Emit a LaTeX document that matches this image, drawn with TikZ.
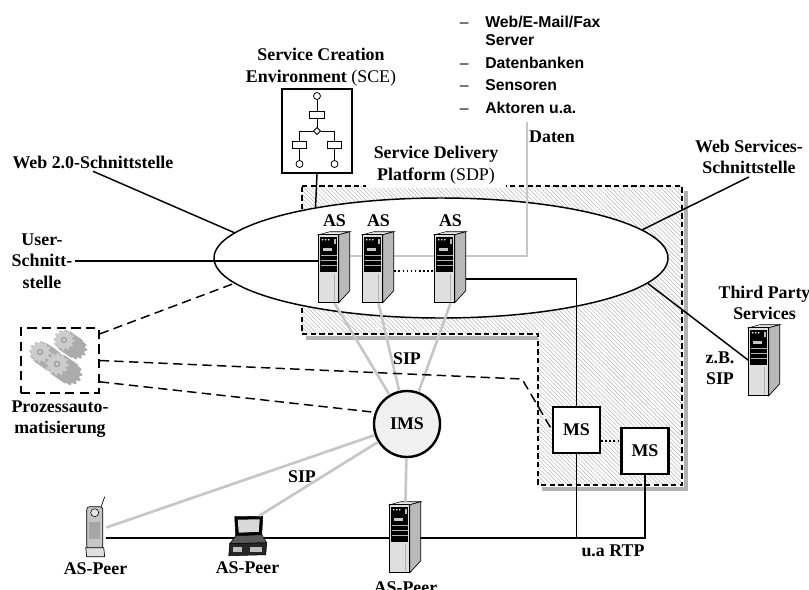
\documentclass[tikz,border=0pt]{standalone}
\usepackage{fontspec}
\setmainfont{Liberation Serif}
\newfontfamily\listfont{Liberation Sans}
\usetikzlibrary{shapes.geometric, positioning, patterns.meta}

\begin{document}
\begin{tikzpicture}[x=0.75pt, y=-0.75pt,
    txt/.style={font=\fontsize{13.4}{16.1}\selectfont\bfseries, align=center, inner sep=2pt},
    rechner/.style={minimum width=23.25pt, minimum height=53.25pt, inner sep=0pt},
    msbox/.style={draw, line width=1.6pt, fill=white, minimum width=35.25pt, minimum height=34.5pt, inner sep=0pt, txt},
    verb/.style={line width=1.1pt},
    sip/.style={black!22, line width=2pt},
    strich/.style={line width=1.1pt, dash pattern=on 7pt off 4pt},
    turm/.pic={
      \filldraw[fill=gray!15, line width=0.4pt] (0,3) -- (11,0) -- (31,0) -- (20,3) -- cycle;
      \filldraw[fill=gray!55, line width=0.5pt] (20,3) -- (31,0) -- (31,59) -- (20,71) -- cycle;
      \filldraw[fill=gray!25, line width=0.5pt] (0,3) rectangle (20,71);
      \fill[black] (1.5,5) rectangle (18.5,40);
      \foreach \i in {4,7,10} \fill[white] (\i,8) circle (0.9);
      \fill[gray!50] (15,7) rectangle (17,12);
      \fill[gray!45] (4,16) rectangle (13,19);
      \foreach \j in {23,28,33} \draw[gray!60, line width=0.3pt] (2,\j) -- (18,\j);
      \draw[gray!60, line width=0.4pt] (15.5,42) -- (15.5,69);
    },
    handybild/.pic={
      \draw[line width=0.5pt] (16,11) -- (20,0);
      \filldraw[fill=gray!45, line width=0.5pt, rounded corners=2pt] (2,10) rectangle (18,52);
      \filldraw[fill=gray!20, line width=0.4pt] (10,16) circle (4);
      \fill[gray!70] (4.5,25) rectangle (15.5,42);
      \filldraw[fill=gray!25, line width=0.5pt] (1,51) -- (19,51) -- (20,60) -- (2,60) -- cycle;
    },
    laptopbild/.pic={
      \filldraw[fill=black, line width=0.4pt] (7,1) -- (35,0.5) -- (34,19) -- (8,20) -- cycle;
      \fill[gray!30] (10,4) -- (32,3.5) -- (31,16) -- (11,17) -- cycle;
      \filldraw[fill=gray!70!black, line width=0.4pt] (8,20) -- (34,19) -- (39,27) -- (2,28) -- cycle;
      \filldraw[fill=black!85, line width=0.4pt] (2,28) -- (39,27) -- (38,39) -- (1,40) -- cycle;
      \fill[gray!50] (5,31) rectangle (14,36);
      \fill[gray!50] (22,31) rectangle (34,36);
    },
    zahnrad/.pic={
      \foreach \k in {12,...,1}
        \fill[gray!65, shift={(\k,0.7*\k)}] (0:10) \foreach \a in {0,30,...,330}{ -- (\a:10) -- (\a+11:10) -- (\a+15:8) -- (\a+26:8) } -- cycle;
      \fill[gray!40] (0:10) \foreach \a in {0,30,...,330}{ -- (\a:10) -- (\a+11:10) -- (\a+15:8) -- (\a+26:8) } -- cycle;
      \fill[gray!70] (0,0) circle (3);
      \fill[gray!25] (0,0) circle (1.3);
    },
  ]
  \useasboundingbox (0,0) rectangle (809,589);

  \path[pattern={Lines[angle=-45, distance=2.2pt, line width=0.35pt]}, pattern color=gray!60]
    (302,186) -- (682,186) -- (682,485) -- (538,485) -- (538,334) -- (302,334) -- cycle;
  \draw[gray!60, line width=3.5pt] (686,191) -- (686,489) -- (542,489);
  \draw[gray!60, line width=3.5pt] (306,338) -- (538,338);
  \draw[line width=1pt, dash pattern=on 4pt off 2.5pt]
    (302,186) -- (682,186) -- (682,485) -- (538,485) -- (538,334) -- (302,334) -- cycle;

  \node[txt, fill=white, inner xsep=6pt, inner ysep=3pt] (sdptext) at (436,165) {Service Delivery\\Platform \textmd{(SDP)}};
  \node[ellipse, draw, line width=1.1pt, fill=white, minimum width=340.5pt, minimum height=90pt] (sdp) at (441,258) {};

  \node[draw, line width=1.2pt, minimum width=52.5pt, minimum height=63pt] (sce) at (317,131) {};
  \begin{scope}[shift={(sce.center)}, line width=0.6pt]
    \draw (0,-35) circle (3.5);
    \draw (0,-31.5) -- (0,-20);
    \draw (-7.5,-20) rectangle (7.5,-13);
    \draw (0,-13) -- (0,-3.5);
    \draw (0,-3.5) -- (3.5,0) -- (0,3.5) -- (-3.5,0) -- cycle;
    \draw (-3.5,0) -| (-17.5,10);
    \draw (3.5,0) -| (17.5,10);
    \draw (-24.5,10) rectangle (-10.5,17);
    \draw (10.5,10) rectangle (24.5,17);
    \draw (-17.5,17) -- (-17.5,29.5);
    \draw (17.5,17) -- (17.5,29.5);
    \draw (-17.5,33) circle (3.5);
    \draw (17.5,33) circle (3.5);
  \end{scope}
  \node[txt] (scetext) at (321,67) {Service Creation\\Environment \textmd{(SCE)}};

  \node[txt] (web20) at (93,162) {Web 2.0-Schnittstelle};
  \node[txt] (user) at (42,261) {User-\\Schnitt-\\stelle};
  \node[txt] (websvc) at (749,157) {Web Services-\\Schnittstelle};
  \node[anchor=north west, inner sep=2pt, font=\listfont\fontsize{11.8}{13.5}\selectfont\bfseries] (quellen) at (457,12) {%
    \begin{tabular}{@{}l@{\hspace{12.5pt}}l@{}}
      \textmd{\textendash} & Web/E-Mail/Fax\\
                           & Server\\[3.4pt]
      \textmd{\textendash} & Datenbanken\\[3.4pt]
      \textmd{\textendash} & Sensoren\\[3.4pt]
      \textmd{\textendash} & Aktoren u.a.
    \end{tabular}};
  \coordinate (daten) at (527,122);
  \node[txt] (datentext) at (552,137) {Daten};

  \node[rechner] (as1) at (334.5,267.5) {};
  \pic at (as1.north west) {turm};
  \draw[sip] ([yshift=8.6pt]as1.east) -| (daten);
  \node[rechner] (as2) at (378.5,267.5) {};
  \pic at (as2.north west) {turm};
  \node[rechner] (as3) at (450.5,267.5) {};
  \pic at (as3.north west) {turm};
  \node[txt, above=1.5pt of as1] (as1text) {AS};
  \node[txt, above=1.5pt of as2] (as2text) {AS};
  \node[txt, above=1.5pt of as3] (as3text) {AS};

  \draw[verb] (web20.south) -- (sdp.173);
  \draw[verb] (sce.south) -- (sdp.158);
  \draw[verb] (user.east) -- (user.east -| as1.west);
  \draw[verb] (websvc.south) -- (sdp.8);
  \draw[dotted, line width=1.1pt] ([yshift=-2.6pt]as2.east) -- ([yshift=-2.6pt]as3.west);

  \node[rechner] (tps) at (764.5,360.5) {};
  \pic at (tps.north west) {turm};
  \node[txt, above=1.5pt of tps] (tpstext) {Third Party\\Services};
  \node[txt] (zbsip) at (720,368) {z.B.\\SIP};
  \draw[verb] (sdp.-7) -- (tps.west);

  \node[draw, strich, minimum width=58.5pt, minimum height=48.75pt] (proz) at (60,360.5) {};
  \pic[scale=1.05] at (64,340) {zahnrad};
  \pic[scale=1.1] at (40,352) {zahnrad};
  \pic[scale=1.15] at (57,364) {zahnrad};
  \node[txt, below=3pt of proz] (proztext) {Prozessauto-\\matisierung};

  \node[circle, draw, line width=1.8pt, fill=gray!12, minimum size=49.5pt, txt] (ims) at (407,424) {IMS};
  \node[msbox] (ms1) at (576.5,430) {MS};
  \node[msbox] (ms2) at (645,451) {MS};
  \node[minimum width=15.75pt, minimum height=45.75pt, inner sep=0pt] (handy) at (95.5,527.5) {};
  \pic at (handy.north west) {handybild};

  \foreach \s in {as1,as2,as3}
    \draw[sip] (\s.south) -- (ims);
  \node[txt] (sipoben) at (407,359) {SIP};

  \draw[verb] ([yshift=-8.6pt]as3.east) -| (ms1.north);
  \draw[dotted, line width=1.1pt] (ms1.east |- 0,441) -- (ms2.west |- 0,441);
  \coordinate (knick) at (522,379);
  \draw[strich] ([yshift=-5pt]proz.north east) -- (sdp.187);
  \draw[strich] (proz.east) -- (knick) -- (ms1.west);
  \draw[strich] ([yshift=-16pt]proz.east) -- (ims.160);

  \coordinate (rtp) at (ms2.south |- 0,538);
  \draw[verb] (ms2.south) -- (rtp) -- (rtp -| handy.east);
  \draw[verb] (ms1.south) -- (ms1.south |- rtp);
  \node[txt] (rtptext) at (613,551) {u.a RTP};

  \node[minimum width=29.25pt, minimum height=30.75pt, inner sep=0pt] (laptop) at (247.5,536.5) {};
  \pic at (laptop.north west) {laptopbild};
  \node[rechner] (peer) at (405.5,537.5) {};
  \pic at (peer.north west) {turm};
  \draw[sip] (ims) -- (handy.east);
  \draw[sip] (ims) -- ([xshift=-6pt]laptop.north east);
  \draw[sip] (ims) -- (peer.north);
  \node[txt] (sipunten) at (302,477) {SIP};

  \node[txt, below=1pt of handy] (peer1) {AS-Peer};
  \node[txt, below=1pt of laptop] (peer2) {AS-Peer};
  \node[txt, below=4pt of peer] (peer3) {AS-Peer};
\end{tikzpicture}
\end{document}
